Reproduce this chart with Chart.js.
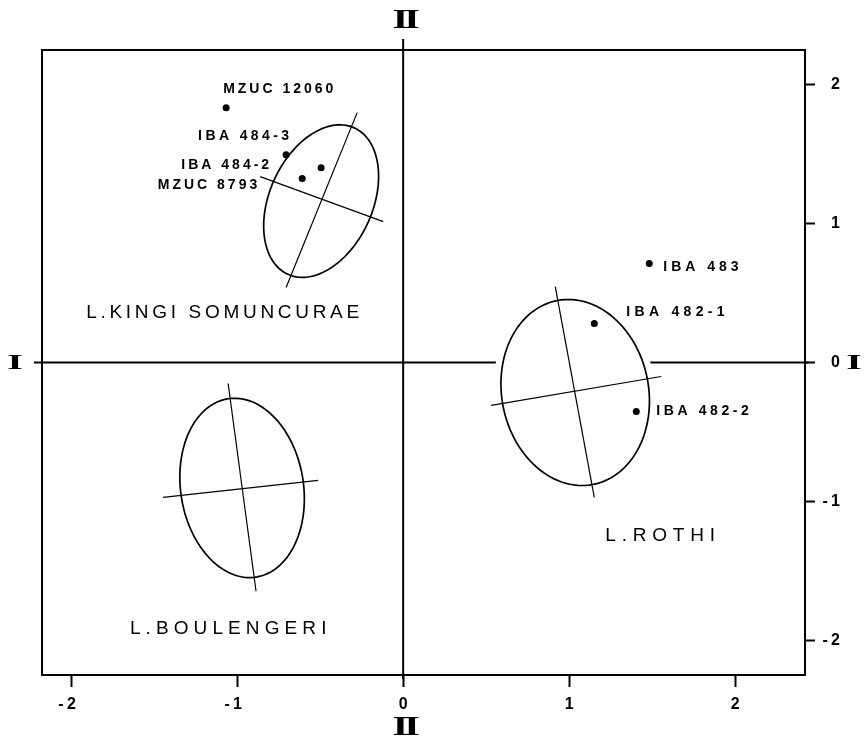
<!DOCTYPE html>
<html><head><meta charset="utf-8">
<script src="https://cdn.jsdelivr.net/npm/chart.js@4/dist/chart.umd.min.js"></script>
<style>html,body{margin:0;padding:0;background:#fff}#wrap{width:866px;height:739px}</style>
</head><body><div id="wrap"><canvas id="c" width="866" height="739"></canvas></div>
<script>
// ---- data ----
const xTicks = [-2, -1, 0, 1, 2];
const yTicks = [-2, -1, 0, 1, 2];

const specimenNames = ['MZUC 12060', 'IBA 484-3', 'IBA 484-2', 'MZUC 8793', 'IBA 483', 'IBA 482-1', 'IBA 482-2'];
const specimenX = [-1.066, -0.705, -0.494, -0.608, 1.482, 1.151, 1.404];
const specimenY = [1.835, 1.496, 1.403, 1.324, 0.712, 0.281, -0.353];

const groupNames = ['L.KINGI SOMUNCURAE', 'L.BOULENGERI', 'L.ROTHI'];
const centerX = [-0.494, -0.970, 1.036];
const centerY = [1.162, -0.903, -0.216];
const majorTipX = [-0.313, -1.042, 0.928];
const majorTipY = [1.698, -0.259, 0.446];
const minorTipX = [-0.199, -0.602, 1.470];
const minorTipY = [1.043, -0.856, -0.115];
const majorLineX = [[-0.277, -0.705], [-1.054, -0.886], [0.916, 1.151]];
const majorLineY = [[1.799, 0.540], [-0.151, -1.647], [0.547, -0.971]];
const minorLineX = [[-0.861, -0.120], [-1.446, -0.512], [0.530, 1.554]];
const minorLineY = [[1.338, 1.014], [-0.971, -0.849], [-0.309, -0.101]];

// ---- label placement (styling) ----
const specimenLabelStyle = [
  {dx: -3, dy: -18, align: 'left', sp: 3.0},
  {dx: 3, dy: -19, align: 'right', sp: 3.4},
  {dx: -52, dy: -2, align: 'right', sp: 3.0},
  {dx: -45, dy: 7, align: 'right', sp: 3.0},
  {dx: 14, dy: 4, align: 'left', sp: 4.0},
  {dx: 32, dy: -11, align: 'left', sp: 4.3},
  {dx: 20, dy: 0, align: 'left', sp: 3.6}
];
const groupLabelStyle = [
  {x: -1.087, y: 0.360, sp: 3.7},
  {x: -1.054, y: -1.914, sp: 5.1},
  {x: 1.548, y: -1.245, sp: 5.8}
];

const datasets = [{
  label: 'specimens',
  data: specimenX.map((v, i) => ({x: v, y: specimenY[i]})),
  pointRadius: 3.5, pointBackgroundColor: '#000', pointBorderWidth: 0, showLine: false
}];
for (let i = 0; i < groupNames.length; i++) {
  datasets.push({
    label: groupNames[i] + ' axis 1',
    data: majorLineX[i].map((v, k) => ({x: v, y: majorLineY[i][k]})),
    showLine: true, borderColor: '#000', borderWidth: 1.2, pointRadius: 0
  });
  datasets.push({
    label: groupNames[i] + ' axis 2',
    data: minorLineX[i].map((v, k) => ({x: v, y: minorLineY[i][k]})),
    showLine: true, borderColor: '#000', borderWidth: 1.2, pointRadius: 0
  });
}

function spaced(ctx, sp) { if ('letterSpacing' in ctx) ctx.letterSpacing = sp + 'px'; }

const overlay = {
  id: 'overlay',
  beforeDatasetsDraw(chart) {
    const {ctx, chartArea: a, scales: {x, y}} = chart;
    ctx.save();
    ctx.strokeStyle = '#000'; ctx.lineWidth = 2;
    ctx.strokeRect(a.left, a.top, a.right - a.left, a.bottom - a.top);
    const x0 = x.getPixelForValue(0), y0 = y.getPixelForValue(0);
    ctx.beginPath();
    ctx.moveTo(x0, a.top - 11); ctx.lineTo(x0, a.bottom + 4);
    ctx.moveTo(a.left - 8, y0); ctx.lineTo(a.right + 4, y0);
    ctx.stroke();
    for (let i = 0; i < groupNames.length; i++) {
      const cx = x.getPixelForValue(centerX[i]), cy = y.getPixelForValue(centerY[i]);
      const ax = x.getPixelForValue(majorTipX[i]) - cx, ay = y.getPixelForValue(majorTipY[i]) - cy;
      const bx = x.getPixelForValue(minorTipX[i]) - cx, by = y.getPixelForValue(minorTipY[i]) - cy;
      ctx.beginPath();
      const n = 120;
      for (let k = 0; k <= n; k++) {
        const t = k / n * Math.PI * 2;
        const px = cx + ax * Math.cos(t) + bx * Math.sin(t);
        const py = cy + ay * Math.cos(t) + by * Math.sin(t);
        if (k === 0) ctx.moveTo(px, py); else ctx.lineTo(px, py);
      }
      ctx.closePath();
      ctx.strokeStyle = '#fff'; ctx.lineWidth = 14; ctx.stroke();
      ctx.fillStyle = '#fff'; ctx.fill();
      ctx.strokeStyle = '#000'; ctx.lineWidth = 1.7; ctx.stroke();
    }
    ctx.restore();
  },
  afterDatasetsDraw(chart) {
    const {ctx, chartArea: a, scales: {x, y}} = chart;
    ctx.save();
    ctx.fillStyle = '#000';
    ctx.textBaseline = 'middle';
    ctx.font = 'bold 14px "Liberation Sans", Arial, sans-serif';
    specimenNames.forEach((name, i) => {
      const s = specimenLabelStyle[i];
      spaced(ctx, s.sp);
      ctx.textAlign = s.align;
      const px = x.getPixelForValue(specimenX[i]) + s.dx + (s.align === 'right' ? s.sp : 0);
      const py = y.getPixelForValue(specimenY[i]) + s.dy;
      ctx.fillText(name, px, py);
    });
    ctx.font = '19px "Liberation Sans", Arial, sans-serif';
    ctx.textAlign = 'center';
    groupNames.forEach((name, i) => {
      const s = groupLabelStyle[i];
      spaced(ctx, s.sp);
      ctx.fillText(name, x.getPixelForValue(s.x) + s.sp / 2, y.getPixelForValue(s.y));
    });
    // axis numerals
    const x0 = x.getPixelForValue(0), y0 = y.getPixelForValue(0);
    const roman = (txt, cx, cy, sx, size, sp) => {
      ctx.save();
      ctx.translate(cx, cy); ctx.scale(sx, 1);
      spaced(ctx, sp);
      ctx.font = 'bold ' + size + 'px "Liberation Serif", "DejaVu Serif", serif';
      ctx.textAlign = 'center'; ctx.textBaseline = 'middle';
      ctx.fillText(txt, sp / 2, 1);
      ctx.restore();
    };
    roman('II', x0 + 3, a.top - 30, 1.45, 28, -3);
    roman('II', x0 + 3, a.bottom + 52, 1.45, 28, -3);
    roman('I', a.left - 27, y0, 1.9, 21, 0);
    roman('I', a.right + 49, y0, 1.9, 21, 0);
    ctx.restore();
  }
};

const tickFont = {family: '"Liberation Sans", Arial, sans-serif', size: 16, weight: 'bold'};

new Chart(document.getElementById('c'), {
  type: 'scatter',
  data: {datasets},
  plugins: [overlay],
  options: {
    responsive: false, animation: false, devicePixelRatio: 1,
    layout: {padding: {left: 42, top: 50, right: 26, bottom: 0}},
    plugins: {legend: {display: false}, tooltip: {enabled: false}},
    scales: {
      x: {
        type: 'linear', position: 'bottom', min: -2.175, max: 2.42,
        afterBuildTicks: s => { s.ticks = xTicks.map(v => ({value: v})); },
        afterFit: s => { s.height = 64; },
        ticks: {
          color: '#000', font: tickFont, padding: 8, maxRotation: 0,
          callback: v => v < 0 ? '-\u2009' + Math.abs(v) + '\u2002' : String(v)
        },
        grid: {drawOnChartArea: false, tickLength: 12, tickColor: '#000', tickWidth: 2},
        border: {color: '#000', width: 2}
      },
      y: {
        type: 'linear', position: 'right', min: -2.25, max: 2.25,
        afterBuildTicks: s => { s.ticks = yTicks.map(v => ({value: v})); },
        afterFit: s => { s.width = 35; },
        ticks: {
          color: '#000', font: tickFont, padding: 10, crossAlign: 'far',
          callback: v => v < 0 ? '-\u2009' + Math.abs(v) : String(v)
        },
        grid: {drawOnChartArea: false, tickLength: 10, tickColor: '#000', tickWidth: 2},
        border: {color: '#000', width: 2}
      }
    }
  }
});
</script></body></html>
